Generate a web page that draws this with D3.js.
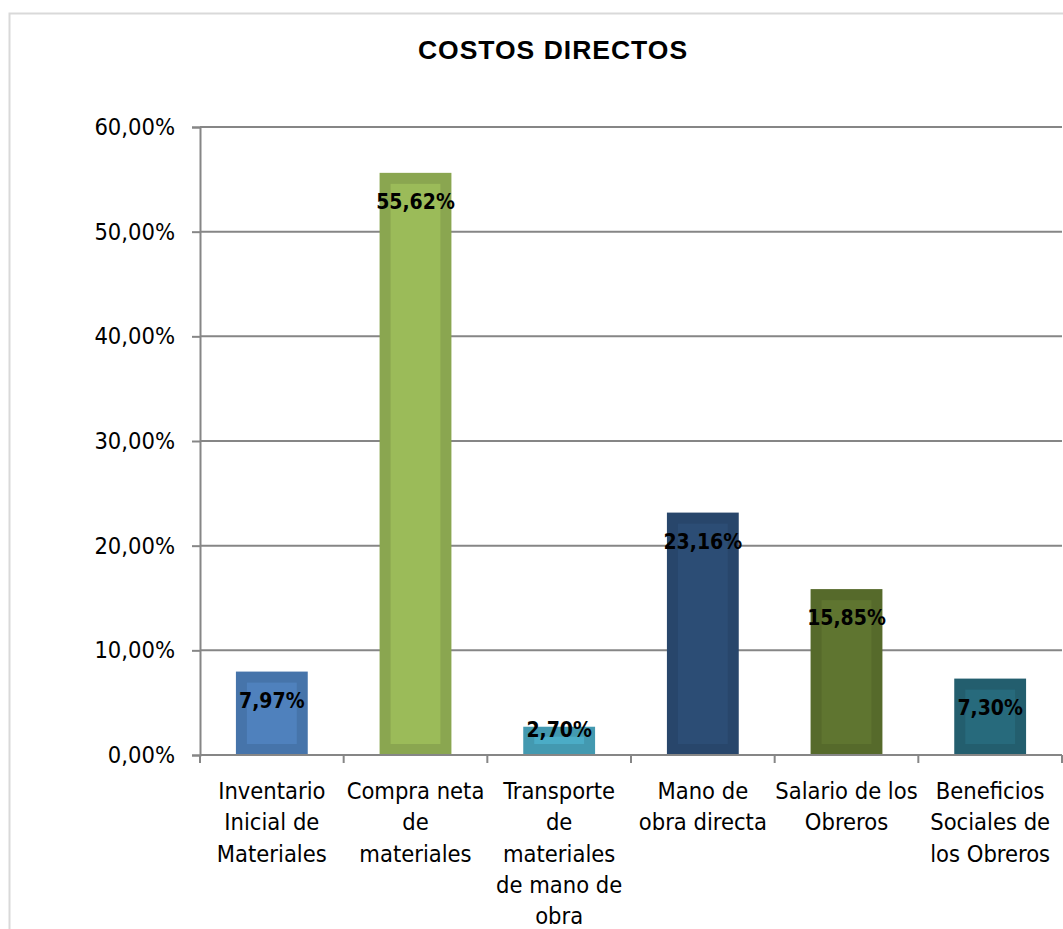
<!DOCTYPE html>
<html>
<head>
<meta charset="utf-8">
<script src="https://cdn.jsdelivr.net/npm/d3@7/dist/d3.min.js"></script>
<style>
  html, body { margin: 0; padding: 0; background: #fff; }
  svg { display: block; }
</style>
</head>
<body>
<svg id="chart" width="1063" height="929"></svg>
<script>
// Cost breakdown (share of direct costs, %)
const categories = [
  ["Inventario", "Inicial de", "Materiales"],
  ["Compra neta", "de", "materiales"],
  ["Transporte", "de", "materiales", "de mano de", "obra"],
  ["Mano de", "obra directa"],
  ["Salario de los", "Obreros"],
  ["Beneficios", "Sociales de", "los Obreros"]
];
const values = [7.97, 55.62, 2.70, 23.16, 15.85, 7.30];
const fillColors  = ["#4f81bd", "#9bbb59", "#4bacc6", "#2c4d75", "#5f7530", "#276a7c"];
const edgeColors  = ["#4674aa", "#8aa650", "#4399b0", "#28466b", "#566a2b", "#235e6e"];
const yTicks = [0, 10, 20, 30, 40, 50, 60];
const title = "COSTOS DIRECTOS";

const fmt = v => v.toFixed(2).replace(".", ",") + "%";
const FONT = "'DejaVu Sans Condensed', 'Liberation Sans Narrow', sans-serif";

const svg = d3.select("#chart");

// chart area frame
svg.append("rect")
  .attr("x", 9.5).attr("y", 13.5)
  .attr("width", 1100).attr("height", 1000)
  .attr("fill", "#fff").attr("stroke", "#d9d9d9").attr("stroke-width", 2);

// title
svg.append("text")
  .attr("x", 553).attr("y", 59)
  .attr("text-anchor", "middle")
  .attr("font-family", "'Liberation Sans', Arial, sans-serif")
  .attr("font-weight", "bold")
  .attr("font-size", 26.5)
  .attr("letter-spacing", 1)
  .attr("fill", "#000")
  .text(title);

const plot = { left: 200, right: 1062, top: 127, bottom: 755 };

const x = d3.scaleBand()
  .domain(d3.range(categories.length))
  .range([plot.left, plot.right])
  .paddingInner(0.5).paddingOuter(0.25);

const xCat = d3.scaleBand()
  .domain(d3.range(categories.length))
  .range([plot.left, plot.right]);

const y = d3.scaleLinear().domain([0, 60]).range([plot.bottom, plot.top]);

// horizontal gridlines
svg.append("g")
  .selectAll("line")
  .data(yTicks.filter(t => t > 0))
  .join("line")
  .attr("x1", plot.left).attr("x2", plot.right)
  .attr("y1", d => y(d)).attr("y2", d => y(d))
  .attr("stroke", "#868686").attr("stroke-width", 2);

// y axis
const yAxis = d3.axisLeft(y)
  .tickValues(yTicks)
  .tickSize(8)
  .tickPadding(17)
  .tickFormat(fmt);
const gy = svg.append("g")
  .attr("transform", `translate(${plot.left},0)`)
  .call(yAxis);
gy.select(".domain").attr("stroke", "#868686").attr("stroke-width", 2);
gy.selectAll(".tick line").attr("stroke", "#868686").attr("stroke-width", 2);
gy.selectAll(".tick text")
  .attr("font-family", FONT)
  .attr("font-size", 23.5)
  .attr("fill", "#000");

// bars with inner bevel panel
const bars = svg.append("g")
  .selectAll("g")
  .data(values)
  .join("g");

bars.append("rect")
  .attr("x", (d, i) => x(i))
  .attr("y", d => y(d))
  .attr("width", x.bandwidth())
  .attr("height", d => y(0) - y(d))
  .attr("fill", (d, i) => edgeColors[i]);

bars.append("rect")
  .attr("x", (d, i) => x(i) + 11)
  .attr("y", d => y(d) + Math.min(11, (y(0) - y(d)) * 0.35))
  .attr("width", x.bandwidth() - 22)
  .attr("height", d => Math.max(0, (y(0) - y(d)) - Math.min(11, (y(0) - y(d)) * 0.35) - 11))
  .attr("fill", (d, i) => fillColors[i]);

// x axis
const gx = svg.append("g");
gx.append("line")
  .attr("x1", plot.left).attr("x2", plot.right)
  .attr("y1", plot.bottom).attr("y2", plot.bottom)
  .attr("stroke", "#868686").attr("stroke-width", 2);
gx.selectAll("line.tick")
  .data(d3.range(categories.length + 1))
  .join("line")
  .attr("class", "tick")
  .attr("x1", d => d < categories.length ? xCat(d) : plot.right)
  .attr("x2", d => d < categories.length ? xCat(d) : plot.right)
  .attr("y1", plot.bottom).attr("y2", plot.bottom + 8)
  .attr("stroke", "#868686").attr("stroke-width", 2);

// category labels
const labels = svg.append("g")
  .selectAll("text")
  .data(categories)
  .join("text")
  .attr("text-anchor", "middle")
  .attr("font-family", FONT)
  .attr("font-size", 23.5)
  .attr("fill", "#000");
labels.selectAll("tspan")
  .data((d, i) => d.map(line => ({ line, i })))
  .join("tspan")
  .attr("x", d => xCat(d.i) + xCat.bandwidth() / 2)
  .attr("y", (d, j) => 799 + j * 31.3)
  .text(d => d.line);

// value labels (inside end)
svg.append("g")
  .selectAll("text")
  .data(values)
  .join("text")
  .attr("x", (d, i) => x(i) + x.bandwidth() / 2)
  .attr("y", d => {
    const top = y(d), h = y(0) - y(d);
    return h > 60 ? top + 36 : top + 10;
  })
  .attr("text-anchor", "middle")
  .attr("font-family", FONT)
  .attr("font-weight", "bold")
  .attr("font-size", 21)
  .attr("fill", "#000")
  .text(fmt);
</script>
</body>
</html>
